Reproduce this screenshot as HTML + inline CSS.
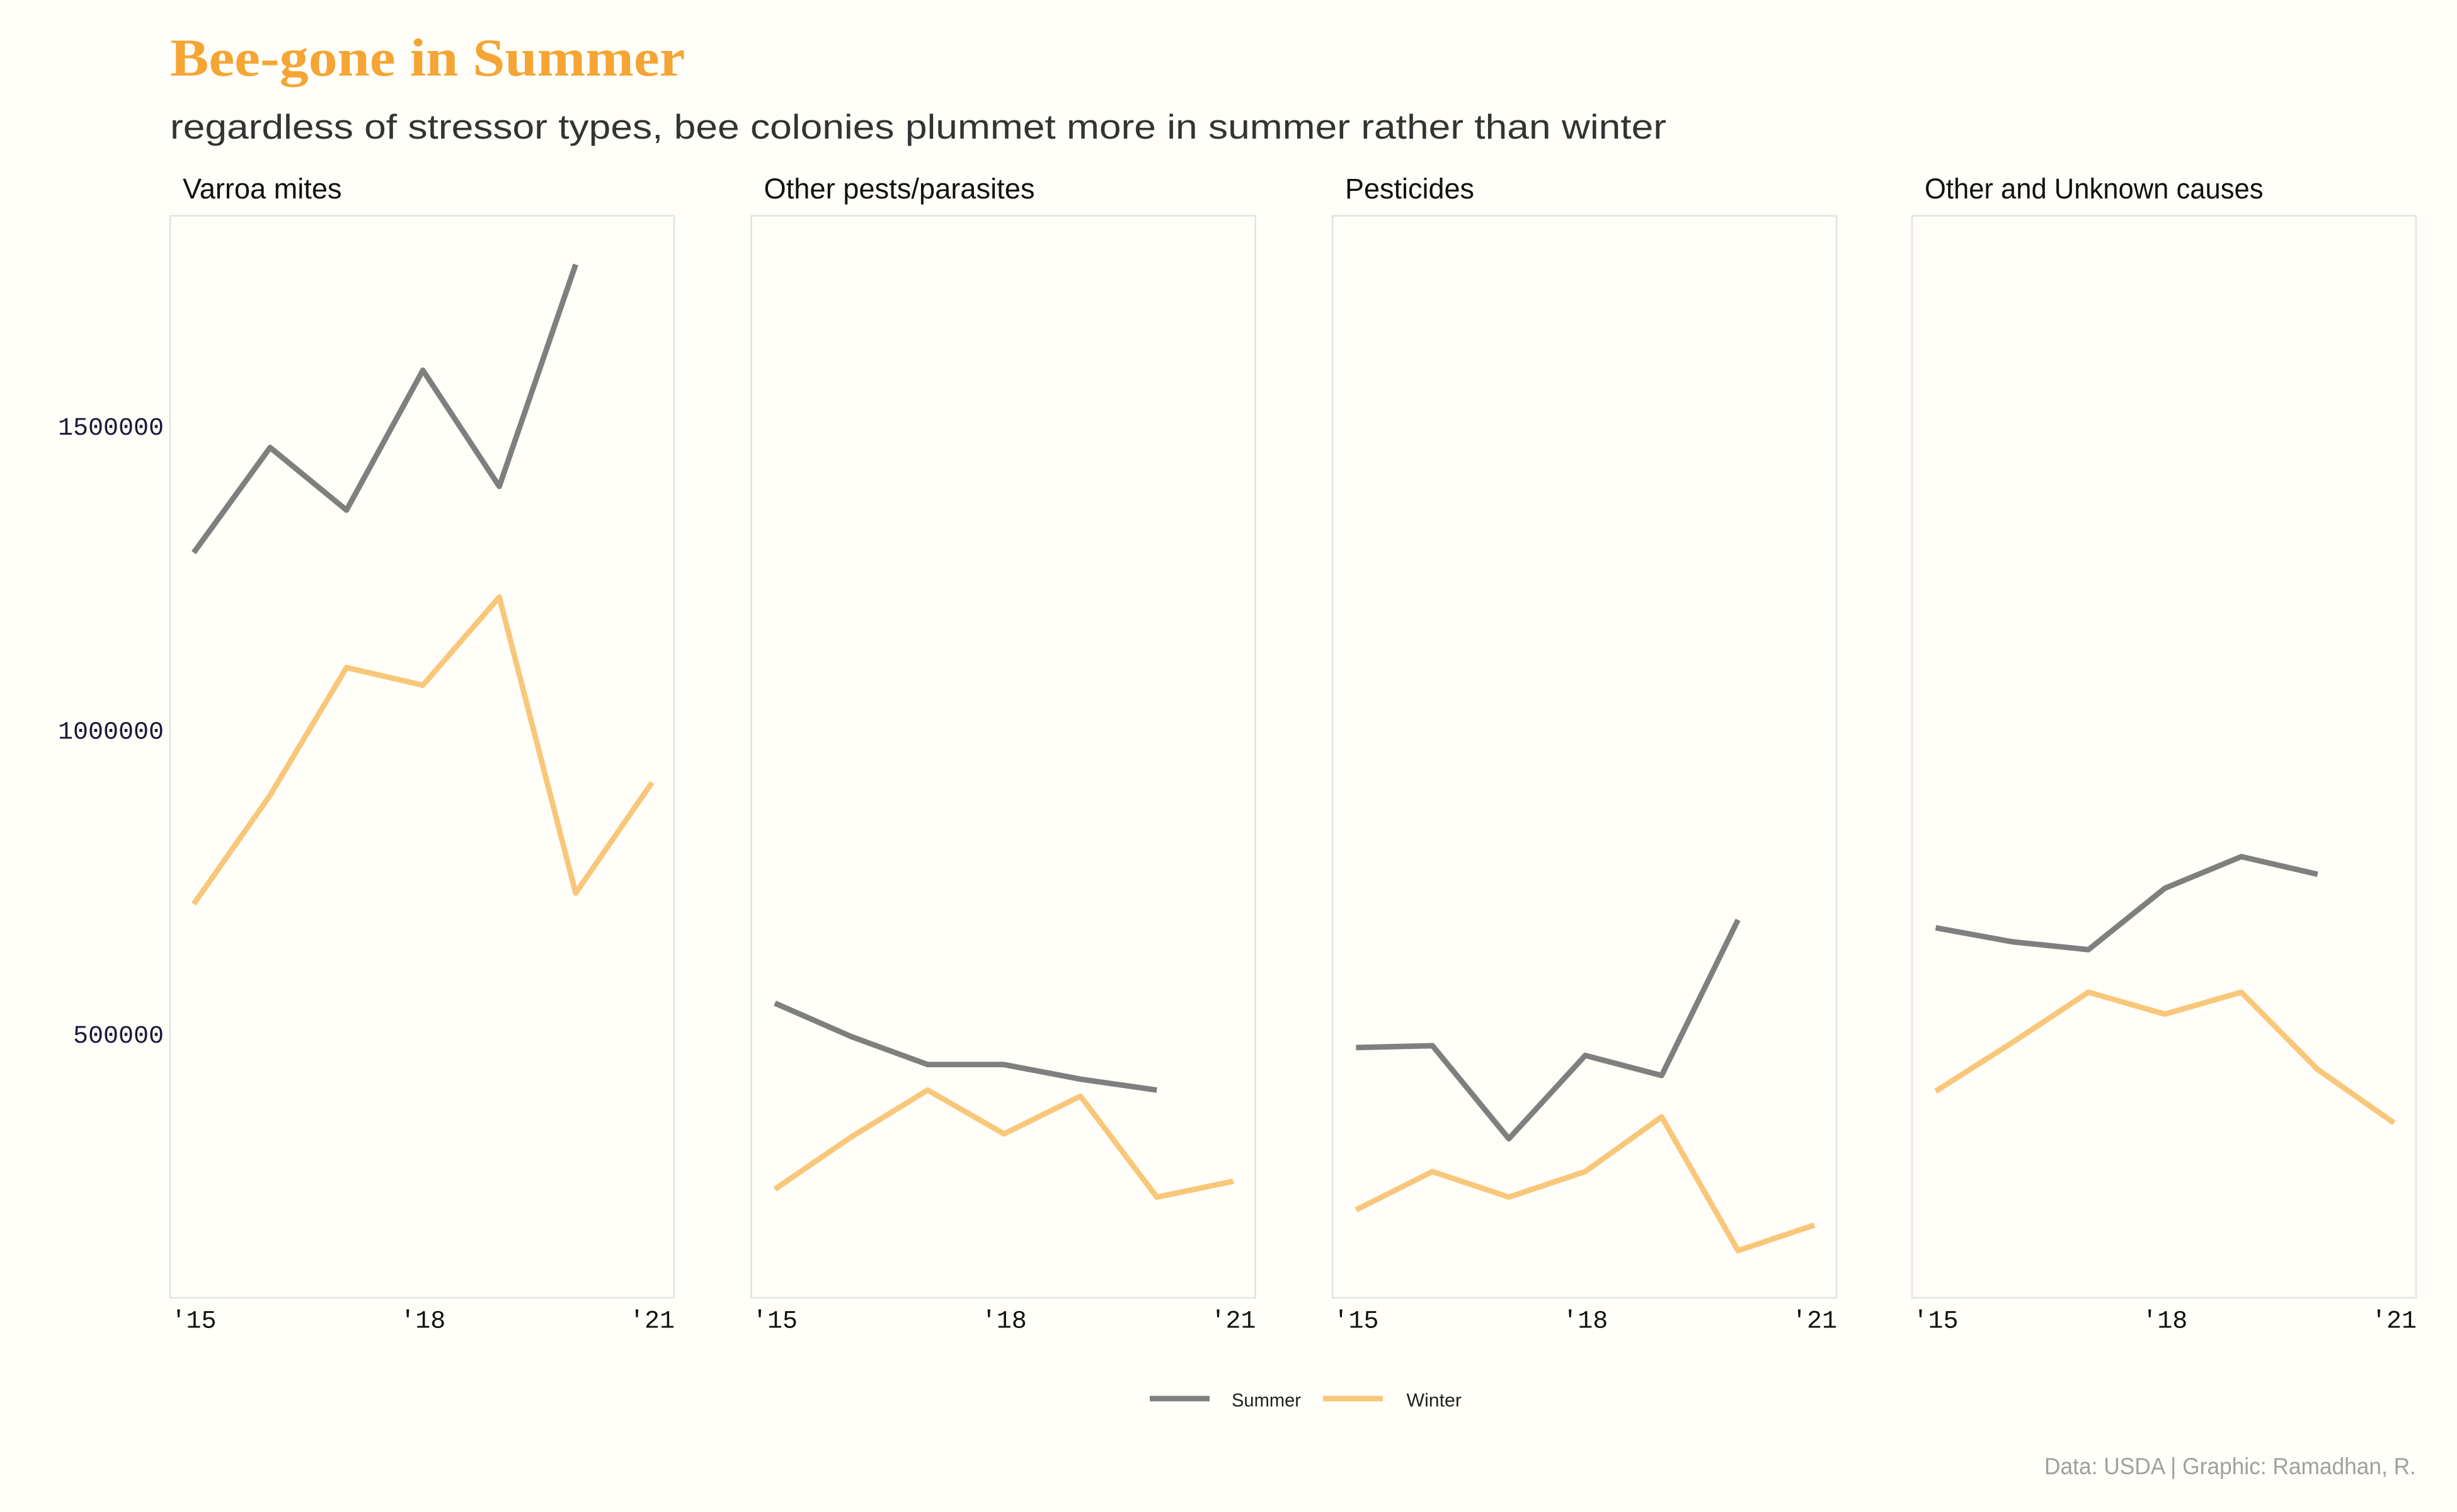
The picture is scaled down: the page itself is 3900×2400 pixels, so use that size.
<!DOCTYPE html>
<html><head><meta charset="utf-8"><style>
html,body{margin:0;padding:0;background:#FFFEF8;}
svg{display:block;}
</style></head><body>
<svg id="chart" width="3900" height="2400" viewBox="0 0 1560 960" xmlns="http://www.w3.org/2000/svg">
<rect width="1560" height="960" fill="#FFFEF8"/>
<text x="108" y="48" textLength="327" lengthAdjust="spacingAndGlyphs" font-family="Liberation Serif, serif" font-weight="bold" font-size="34" fill="#F5A534">Bee-gone in Summer</text>
<text x="108" y="88" textLength="950" lengthAdjust="spacingAndGlyphs" font-family="Liberation Sans, sans-serif" font-size="22" fill="#333">regardless of stressor types, bee colonies plummet more in summer rather than winter</text>
<g id="panels"></g>
<g>
<line x1="730" x2="768" y1="888" y2="888" stroke="#7f7f7f" stroke-width="3.5"/>
<text x="782" y="893" textLength="44" lengthAdjust="spacingAndGlyphs" font-family="Liberation Sans Narrow, Liberation Sans, sans-serif" font-size="12" fill="#222">Summer</text>
<line x1="840" x2="878" y1="888" y2="888" stroke="#F9C77A" stroke-width="3.5"/>
<text x="893" y="893" textLength="35" lengthAdjust="spacingAndGlyphs" font-family="Liberation Sans Narrow, Liberation Sans, sans-serif" font-size="12" fill="#222">Winter</text>
</g>
<text x="1298" y="936" textLength="236" lengthAdjust="spacingAndGlyphs" font-family="Liberation Sans Narrow, Liberation Sans, sans-serif" font-size="15" fill="#a0a0a0">Data: USDA | Graphic: Ramadhan, R.</text>
</svg>
<script>
const years=[2015,2016,2017,2018,2019,2020,2021];
const panelTitles=["Varroa mites","Other pests/parasites","Pesticides","Other and Unknown causes"];
const summerVarroa=[1293000,1466000,1363000,1593000,1402000,1767000];
const winterVarroa=[715000,894000,1104000,1075000,1220000,733000,915000];
const summerPests=[552000,497000,451000,451000,427000,409000];
const winterPests=[246000,332000,409000,337000,399000,233000,259000];
const summerPesticides=[479000,482000,329000,466000,433000,689000];
const winterPesticides=[212000,275000,233000,275000,365000,145000,187000];
const summerOther=[676000,653000,640000,741000,793000,764000];
const winterOther=[407000,487000,570000,534000,570000,443000,355000];
const yTicks=[500000,1000000,1500000];
const xTickYears=[2015,2018,2021];
const xTickLabels=["'15","'18","'21"];
const summers=[summerVarroa,summerPests,summerPesticides,summerOther];
const winters=[winterVarroa,winterPests,winterPesticides,winterOther];
const NS="http://www.w3.org/2000/svg";
const panelLefts=[108,477,846,1214], panelW=320, plotTop=137, plotBottom=824;
const titleWidths=[101,172,82,215];
const yScale=v=>850-v/500000*193;
const xScale=(i,yr)=>panelLefts[i]+15+(yr-2015)*48.5;
const g=document.getElementById('panels');
function mk(tag,attrs){const e=document.createElementNS(NS,tag);for(const k in attrs)e.setAttribute(k,attrs[k]);return e;}
yTicks.forEach(t=>{
  const e=mk('text',{x:104,y:yScale(t)+5,'text-anchor':'end','font-family':'Liberation Mono, monospace','font-size':16,fill:'#1a1a3a'});
  
  
  e.textContent=t; g.appendChild(e);
});
for(let i=0;i<4;i++){
  const r=mk('rect',{x:panelLefts[i],y:plotTop,width:panelW,height:plotBottom-plotTop,fill:'none',stroke:'#e2e2e2','stroke-width':1});
  
  
  g.appendChild(r);
  const t=mk('text',{x:panelLefts[i]+8,y:126,textLength:titleWidths[i],lengthAdjust:'spacingAndGlyphs','font-family':'Liberation Sans Narrow, Liberation Sans, sans-serif','font-size':18,fill:'#111'});
  
  
  t.textContent=panelTitles[i]; g.appendChild(t);
  xTickYears.forEach((yr,k)=>{
    const e=mk('text',{x:xScale(i,yr),y:843,'text-anchor':'middle','font-family':'Liberation Mono, monospace','font-size':16,fill:'#111'});
    
    
    e.textContent=xTickLabels[k]; g.appendChild(e);
  });
  [[winters[i],'#F9C77A','winter-line'],[summers[i],'#7f7f7f','summer-line']].forEach(([arr,c,n])=>{
    const pts=arr.map((v,j)=>xScale(i,years[j])+','+yScale(v)).join(' ');
    const p=mk('polyline',{points:pts,fill:'none',stroke:c,'stroke-width':3.5,'stroke-linejoin':'round'});
    
    
    g.appendChild(p);
  });
}
</script>
</body></html>
